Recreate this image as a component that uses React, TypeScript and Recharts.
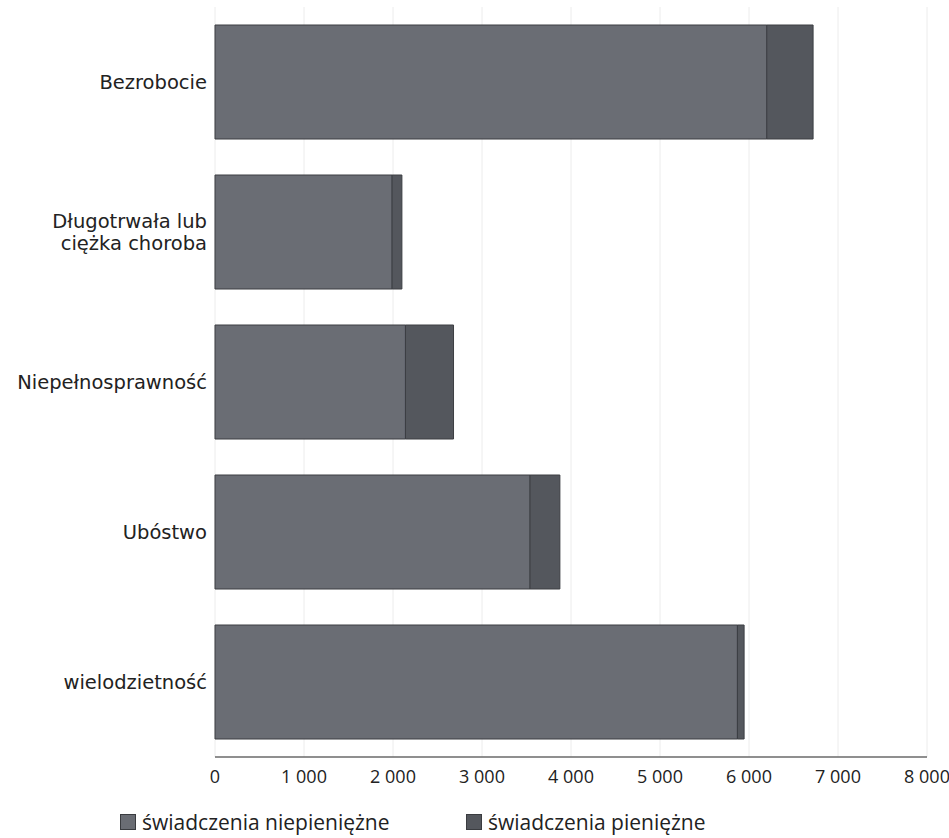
import React from "react";
import { BarChart, Bar, XAxis, YAxis, CartesianGrid, Legend } from "recharts";

const categories = [
  "Bezrobocie",
  "Długotrwała lub\nciężka choroba",
  "Niepełnosprawność",
  "Ubóstwo",
  "wielodzietność",
];
const niepieniezne = [6200, 1990, 2140, 3540, 5870];
const pieniezne = [520, 110, 540, 335, 75];
const xTicks = [0, 1000, 2000, 3000, 4000, 5000, 6000, 7000, 8000];
const seriesNames = ["świadczenia niepieniężne", "świadczenia pieniężne"];
const seriesColors = ["#6a6d74", "#54575d"];

const data = categories.map((c, i) => ({
  name: c,
  a: niepieniezne[i],
  b: pieniezne[i],
}));

const fmt = (v: number) =>
  v >= 1000 ? `${Math.floor(v / 1000)} ${String(v % 1000).padStart(3, "0")}` : String(v);

const CatTick = (props: any) => {
  const { x, y, payload } = props;
  const lines = String(payload.value).split("\n");
  const lh = 22;
  const start = y - ((lines.length - 1) * lh) / 2;
  return (
    <text
      x={x}
      y={start}
      textAnchor="end"
      dominantBaseline="central"
      fontFamily="DejaVu Sans"
      fontSize={19.5}
      fill="#222"
    >
      {lines.map((l, i) => (
        <tspan key={i} x={x} y={start + i * lh}>
          {l}
        </tspan>
      ))}
    </text>
  );
};

const LegendContent = () => (
  <div style={{ position: "relative", width: 949, height: 30 }}>
    {seriesNames.map((n, i) => (
      <div
        key={n}
        style={{
          position: "absolute",
          left: i === 0 ? 120 : 466,
          top: 0,
          display: "flex",
          alignItems: "center",
          fontFamily: "Open Sans",
          fontSize: 21,
          color: "#222",
          whiteSpace: "nowrap",
        }}
      >
        <span
          style={{
            display: "inline-block",
            width: 14,
            height: 14,
            background: seriesColors[i],
            border: "1px solid #3a3c40",
            marginRight: 6,
          }}
        />
        {n}
      </div>
    ))}
  </div>
);

export default function App() {
  return (
    <div style={{ position: "absolute", left: 0, top: 0, background: "#fff" }}>
      <BarChart
        width={949}
        height={838}
        data={data}
        layout="vertical"
        margin={{ top: 7, right: 22, bottom: 0, left: 0 }}
        barCategoryGap="12%"
      >
        <CartesianGrid horizontal={false} vertical stroke="#ececec" />
        <XAxis
          type="number"
          domain={[0, 8000]}
          ticks={xTicks}
          tickFormatter={fmt}
          height={81}
          axisLine={{ stroke: "#6a6a6a", strokeWidth: 1.5 }}
          tickLine={false}
          tickSize={0}
          tickMargin={13}
          tick={{ fontFamily: "Open Sans", fontSize: 18, fill: "#222" }}
          interval={0}
        />
        <YAxis
          type="category"
          dataKey="name"
          width={215}
          axisLine={false}
          tickLine={false}
          tickSize={0}
          tickMargin={8}
          tick={<CatTick />}
          interval={0}
        />
        <Bar
          dataKey="a"
          stackId="s"
          name={seriesNames[0]}
          fill={seriesColors[0]}
          stroke="#3c3e43"
          strokeWidth={1}
          isAnimationActive={false}
        />
        <Bar
          dataKey="b"
          stackId="s"
          name={seriesNames[1]}
          fill={seriesColors[1]}
          stroke="#3c3e43"
          strokeWidth={1}
          isAnimationActive={false}
        />
        <Legend
          layout="horizontal"
          verticalAlign="middle"
          align="center"
          content={<LegendContent />}
          wrapperStyle={{ position: "absolute", top: 808, left: 0, width: 949, height: 30 }}
        />
      </BarChart>
    </div>
  );
}
